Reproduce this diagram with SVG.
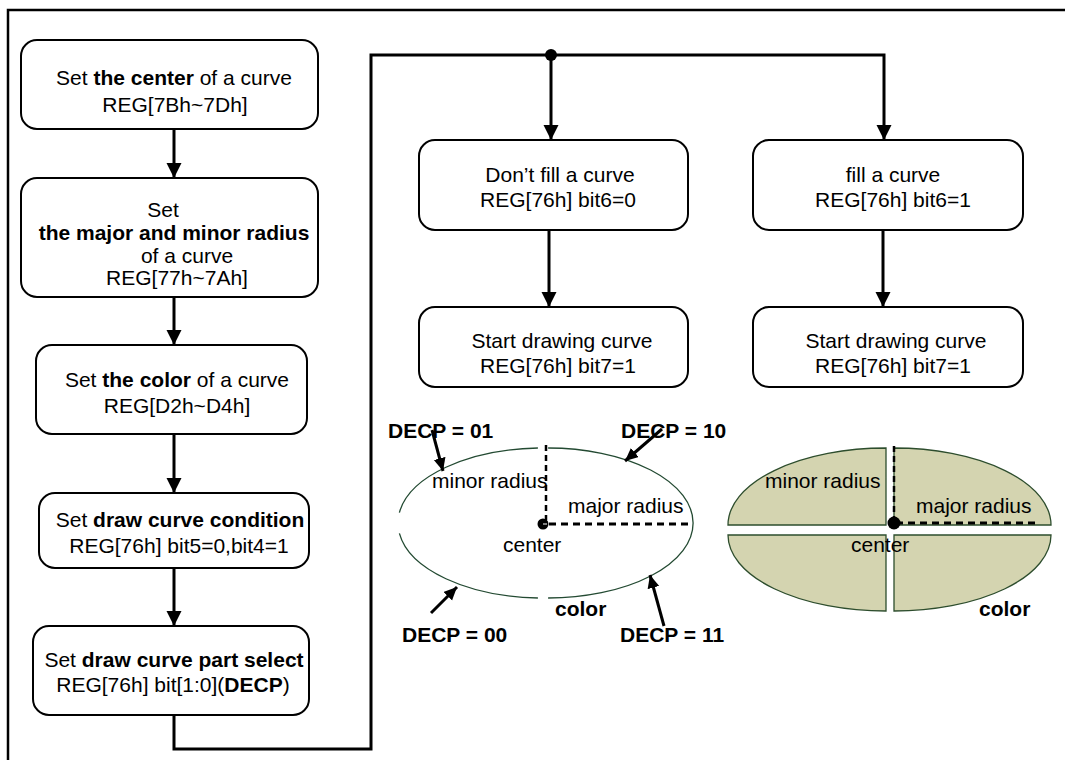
<svg xmlns="http://www.w3.org/2000/svg" width="1065" height="760" viewBox="0 0 1065 760">
<style>
  .box { fill: #ffffff; stroke: #000000; stroke-width: 2; }
  .t { font-family: "Liberation Sans", Arial, sans-serif; font-size: 21px; fill: #000000; text-anchor: middle; }
  .l { font-family: "Liberation Sans", Arial, sans-serif; font-size: 21px; fill: #000000; }
  .b { font-weight: bold; }
  .conn { fill: none; stroke: #000000; stroke-width: 3; }
  .dash { fill: none; stroke: #000000; stroke-width: 3; stroke-dasharray: 7 5; }
  .ell { fill: none; stroke: #234a32; stroke-width: 1.3; }
  .q { fill: #d4d4b0; stroke: #2d4d2d; stroke-width: 1.3; }
</style>
<defs>
  <marker id="ah" markerUnits="userSpaceOnUse" markerWidth="16" markerHeight="16" refX="15" refY="7.5" orient="auto">
    <path d="M0,0 L15,7.5 L0,15 Z" fill="#000000"/>
  </marker>
  <marker id="sah" markerUnits="userSpaceOnUse" markerWidth="14" markerHeight="14" refX="13" refY="6" orient="auto">
    <path d="M0,0 L13,6 L0,12 Z" fill="#000000"/>
  </marker>
</defs>
<rect width="1065" height="760" fill="#ffffff"/>
<path d="M8,760 V10 H1065" fill="none" stroke="#000000" stroke-width="2.5"/>

<g id="connectors">
  <line class="conn" x1="174" y1="129" x2="174" y2="178" marker-end="url(#ah)"/>
  <line class="conn" x1="174" y1="297" x2="174" y2="345" marker-end="url(#ah)"/>
  <line class="conn" x1="174" y1="434" x2="174" y2="493" marker-end="url(#ah)"/>
  <line class="conn" x1="174" y1="568" x2="174" y2="626" marker-end="url(#ah)"/>
  <path class="conn" d="M174,715 V749 H371 V55 H884 V140" marker-end="url(#ah)"/>
  <line class="conn" x1="551" y1="55" x2="551" y2="140" marker-end="url(#ah)"/>
  <circle cx="551" cy="55" r="6" fill="#000000"/>
  <line class="conn" x1="549" y1="230" x2="549" y2="307" marker-end="url(#ah)"/>
  <line class="conn" x1="883" y1="230" x2="883" y2="307" marker-end="url(#ah)"/>
</g>

<g id="n1">
  <rect class="box" x="21" y="40" width="297" height="89" rx="16"/>
  <text class="t" x="174" y="85">Set <tspan class="b">the center</tspan> of a curve</text>
  <text class="t" x="175" y="112">REG[7Bh~7Dh]</text>
</g>
<g id="n2">
  <rect class="box" x="21" y="178" width="297" height="119" rx="16"/>
  <text class="t" x="163" y="217">Set</text>
  <text class="t b" x="174" y="240">the major and minor radius</text>
  <text class="t" x="187" y="263">of a curve</text>
  <text class="t" x="177" y="285">REG[77h~7Ah]</text>
</g>
<g id="n3">
  <rect class="box" x="36" y="345" width="271" height="89" rx="16"/>
  <text class="t" x="177" y="387">Set <tspan class="b">the color</tspan> of a curve</text>
  <text class="t" x="177" y="413">REG[D2h~D4h]</text>
</g>
<g id="n4">
  <rect class="box" x="39" y="493" width="270" height="75" rx="16"/>
  <text class="t" x="180" y="527">Set <tspan class="b">draw curve condition</tspan></text>
  <text class="t" x="179" y="553">REG[76h] bit5=0,bit4=1</text>
</g>
<g id="n5">
  <rect class="box" x="33" y="626" width="276" height="89" rx="16"/>
  <text class="t" x="174" y="667">Set <tspan class="b">draw curve part select</tspan></text>
  <text class="t" x="173" y="692">REG[76h] bit[1:0](<tspan class="b">DECP</tspan>)</text>
</g>
<g id="n6">
  <rect class="box" x="419" y="140" width="269" height="90" rx="16"/>
  <text class="t" x="560" y="182">Don’t fill a curve</text>
  <text class="t" x="558" y="207">REG[76h] bit6=0</text>
</g>
<g id="n7">
  <rect class="box" x="419" y="307" width="269" height="80" rx="16"/>
  <text class="t" x="562" y="348">Start drawing curve</text>
  <text class="t" x="558" y="373">REG[76h] bit7=1</text>
</g>
<g id="n8">
  <rect class="box" x="753" y="140" width="270" height="90" rx="16"/>
  <text class="t" x="893" y="182">fill a curve</text>
  <text class="t" x="893" y="207">REG[76h] bit6=1</text>
</g>
<g id="n9">
  <rect class="box" x="753" y="307" width="270" height="80" rx="16"/>
  <text class="t" x="896" y="348">Start drawing curve</text>
  <text class="t" x="893" y="373">REG[76h] bit7=1</text>
</g>

<g id="ellipse-outline">
  <path class="ell" d="M399.4,512.6 A145 75 0 0 1 537.9,448"/>
  <path class="ell" d="M548.1,448 A145 75 0 0 1 548.1,598"/>
  <path class="ell" d="M537.9,598 A145 75 0 0 1 399.4,533.4"/>
  <line x1="546" y1="445" x2="546" y2="520" fill="none" stroke="#000" stroke-width="2.5" stroke-dasharray="6 4"/>
  <line class="dash" x1="549" y1="524" x2="690" y2="524"/>
  <circle cx="543" cy="524" r="5.5" fill="#000000"/>
  <line x1="543" y1="524" x2="547" y2="524" stroke="#ffffff" stroke-width="1"/>
  <text class="l" x="432" y="488">minor radius</text>
  <text class="l" x="568" y="513">major radius</text>
  <text class="l" x="503" y="552">center</text>
  <text class="l b" x="555" y="616">color</text>
  <text class="l b" x="388" y="438">DECP = 01</text>
  <text class="l b" x="621" y="438">DECP = 10</text>
  <text class="l b" x="402" y="642">DECP = 00</text>
  <text class="l b" x="620" y="642">DECP = 11</text>
  <line class="conn" x1="432" y1="430" x2="443" y2="471" marker-end="url(#sah)"/>
  <line class="conn" x1="662" y1="429" x2="625" y2="461" marker-end="url(#sah)"/>
  <line class="conn" x1="431" y1="613" x2="457" y2="587" marker-end="url(#sah)"/>
  <line class="conn" x1="664" y1="626" x2="650" y2="575" marker-end="url(#sah)"/>
</g>

<g id="ellipse-filled">
  <path class="q" d="M886,525 H728 A158 77 0 0 1 886,448 Z"/>
  <path class="q" d="M894,525 V448 A157 77 0 0 1 1051,525 Z"/>
  <path class="q" d="M886,535 H728 A158 76 0 0 0 886,611 Z"/>
  <path class="q" d="M1051,535 H894 V611 A157 76 0 0 0 1051,535 Z"/>
  <line x1="894" y1="446" x2="894" y2="521" fill="none" stroke="#000" stroke-width="2.5" stroke-dasharray="6 4"/>
  <line class="dash" x1="896" y1="523" x2="1037" y2="523"/>
  <circle cx="894" cy="523" r="6.5" fill="#000000"/>
  <text class="l" x="765" y="488">minor radius</text>
  <text class="l" x="916" y="513">major radius</text>
  <text class="l" x="851" y="552">center</text>
  <text class="l b" x="979" y="616">color</text>
</g>
</svg>
